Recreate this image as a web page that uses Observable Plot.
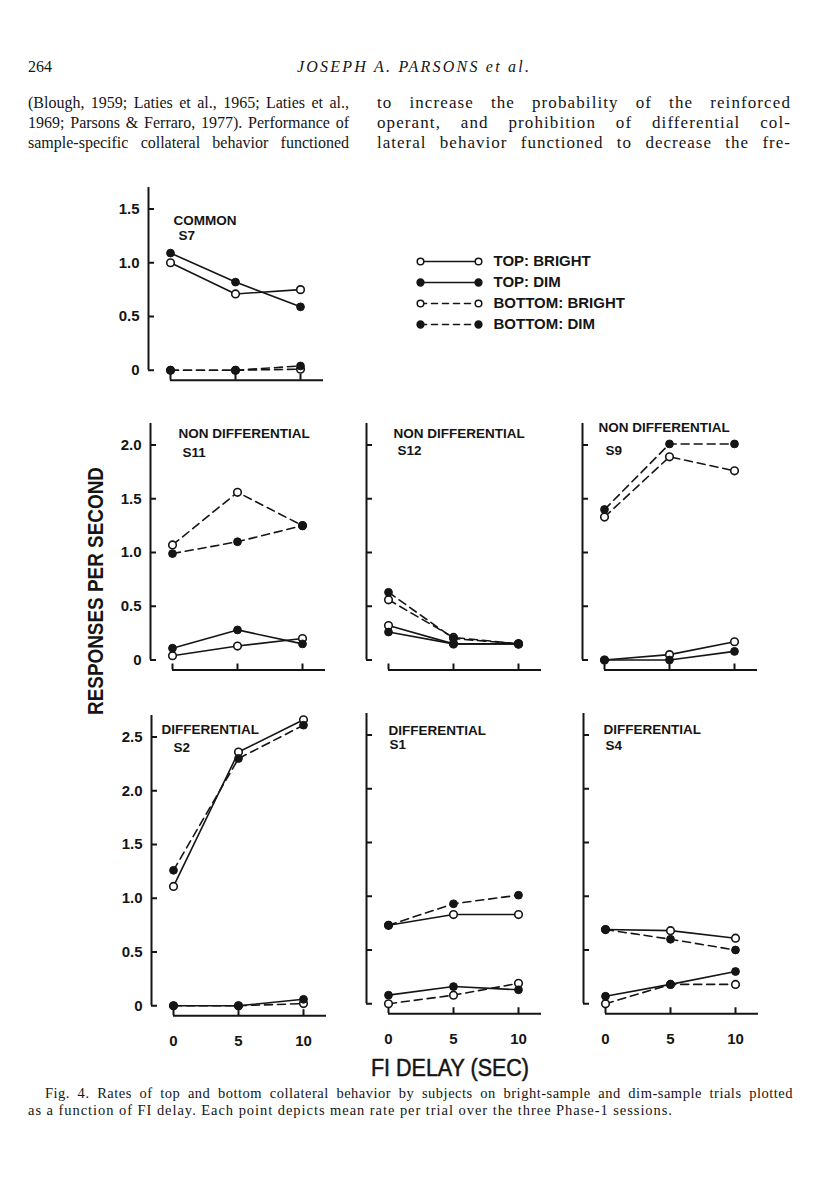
<!DOCTYPE html>
<html>
<head>
<meta charset="utf-8">
<script src="https://cdn.jsdelivr.net/npm/d3@7"></script>
<script src="https://cdn.jsdelivr.net/npm/@observablehq/plot@0.6"></script>
<style>
  html, body { margin: 0; padding: 0; background: #fff; }
  #page { position: relative; width: 816px; height: 1200px; overflow: hidden; background: #fff; color: #151515; }
  .line { position: absolute; white-space: nowrap; display: inline-block; transform-origin: 0 50%; }
  .serif { font-family: "Liberation Serif", "Times New Roman", serif; }
  .sans { font-family: "Liberation Sans", Arial, Helvetica, sans-serif; }
  .panel { position: absolute; }
  .panel svg { overflow: visible; }
</style>
</head>
<body>
<div id="page"></div>
<script>
// ---------------- DATA ----------------
const delays = [0, 5, 10];                       // FI delay (sec)
const xTickLabels = ["0", "5", "10"];
const subjects = ["S7", "S11", "S12", "S9", "S2", "S1", "S4"];
const conditions = ["COMMON", "NON DIFFERENTIAL", "NON DIFFERENTIAL", "NON DIFFERENTIAL",
                    "DIFFERENTIAL", "DIFFERENTIAL", "DIFFERENTIAL"];
const seriesNames = ["TOP: BRIGHT", "TOP: DIM", "BOTTOM: BRIGHT", "BOTTOM: DIM"];
// responses per second, one row per subject (same order as `subjects`), values at delays 0, 5, 10
const topBright    = [[1.00, 0.71, 0.75], [0.04, 0.13, 0.20], [0.32, 0.15, 0.15], [0.00, 0.05, 0.17],
                      [1.11, 2.36, 2.66], [0.73, 0.83, 0.83], [0.69, 0.68, 0.61]];
const topDim       = [[1.09, 0.82, 0.59], [0.11, 0.28, 0.15], [0.26, 0.15, 0.15], [0.00, 0.00, 0.08],
                      [0.00, 0.00, 0.06], [0.08, 0.16, 0.13], [0.07, 0.18, 0.30]];
const bottomBright = [[0.00, 0.00, 0.01], [1.07, 1.56, 1.25], [0.56, 0.21, 0.15], [1.33, 1.89, 1.76],
                      [0.00, 0.00, 0.02], [0.00, 0.08, 0.19], [0.00, 0.18, 0.18]];
const bottomDim    = [[0.00, 0.00, 0.04], [0.99, 1.10, 1.25], [0.63, 0.20, 0.15], [1.40, 2.01, 2.01],
                      [1.26, 2.30, 2.61], [0.73, 0.93, 1.01], [0.69, 0.60, 0.50]];
const yTickValues = [0, 0.5, 1.0, 1.5, 2.0, 2.5];
const yTickLabels = ["0", "0.5", "1.0", "1.5", "2.0", "2.5"];
const yTitle = "RESPONSES PER SECOND";
const xTitle = "FI DELAY (SEC)";

// page text
const pageNumber = "264";
const runningHead = "JOSEPH A. PARSONS et al.";
const leftColumn = ["(Blough, 1959; Laties et al., 1965; Laties et al.,",
                    "1969; Parsons & Ferraro, 1977). Performance of",
                    "sample-specific collateral behavior functioned"];
const rightColumn = ["to increase the probability of the reinforced",
                     "operant, and prohibition of differential col-",
                     "lateral behavior functioned to decrease the fre-"];
const captionLines = ["Fig. 4. Rates of top and bottom collateral behavior by subjects on bright-sample and dim-sample trials plotted",
                      "as a function of FI delay. Each point depicts mean rate per trial over the three Phase-1 sessions."];

// ---------------- LAYOUT (pixels on the page) ----------------
const PX_PER_SEC = 13.0, PX_PER_UNIT = 107.5;
const panelLayout = [
  {axisX: 148.0, zeroY: 370.0,  yTop: 1.7, nTicks: 4, yLabels: true,  xLabels: false, t1: [25, 28], t2: [30, 43]},
  {axisX: 150.0, zeroY: 659.3,  yTop: 2.2, nTicks: 5, yLabels: true,  xLabels: false, t1: [28, 5],  t2: [32, 24]},
  {axisX: 365.7, zeroY: 659.3,  yTop: 2.2, nTicks: 5, yLabels: false, xLabels: false, t1: [27, 5],  t2: [31, 22]},
  {axisX: 582.3, zeroY: 659.3,  yTop: 2.2, nTicks: 5, yLabels: false, xLabels: false, t1: [16, -1], t2: [23, 22]},
  {axisX: 150.7, zeroY: 1005.0, yTop: 2.7, nTicks: 6, yLabels: true,  xLabels: true,  t1: [10, 9],  t2: [22, 27]},
  {axisX: 365.7, zeroY: 1003.3, yTop: 2.7, nTicks: 6, yLabels: false, xLabels: true,  t1: [22, 12], t2: [23, 26]},
  {axisX: 583.3, zeroY: 1003.3, yTop: 2.7, nTicks: 6, yLabels: false, xLabels: true,  t1: [20, 11], t2: [22, 27]}
];
const INK = "#151515";
const SANS = '"Liberation Sans", Arial, Helvetica, sans-serif';

const page = document.getElementById("page");

function addLine(text, cls, x, yc, opts = {}) {
  const el = document.createElement("span");
  el.className = "line " + cls;
  el.textContent = text;
  el.style.fontSize = (opts.size || 15) + "px";
  el.style.lineHeight = (opts.lh || 20) + "px";
  if (opts.italic) el.style.fontStyle = "italic";
  if (opts.weight) el.style.fontWeight = opts.weight;
  if (opts.letter) el.style.letterSpacing = opts.letter + "px";
  if (opts.stroke) el.style.webkitTextStroke = opts.stroke + "px " + INK;
  page.appendChild(el);
  let w = el.getBoundingClientRect().width;
  const h = opts.lh || 20;
  let left = x;
  if (opts.target) {
    const spaces = (text.match(/ /g) || []).length;
    if (opts.mode === "mixed" && w < opts.target) {
      // spread part of the slack over letters, the rest over word gaps
      const ls = Math.min(opts.maxLetter || 0.8, (opts.target - w) * 0.5 / text.length);
      el.style.letterSpacing = ls + "px";
      w = el.getBoundingClientRect().width;
      if (w < opts.target && spaces) el.style.wordSpacing = ((opts.target - w) / spaces) + "px";
    } else if (opts.mode === "words" && w < opts.target && spaces) {
      el.style.wordSpacing = ((opts.target - w) / spaces) + "px";
    } else if (opts.mode === "letters" && w < opts.target) {
      el.style.letterSpacing = ((opts.letter || 0) + (opts.target - w) / (text.length - 1)) + "px";
    } else if (w !== opts.target) {
      el.style.transform = `scaleX(${opts.target / w})`;
    }
  }
  if (opts.center) left = x - (opts.target || w) / 2;
  el.style.left = left + "px";
  el.style.top = (yc - h / 2) + "px";
  return el;
}

// running head
addLine(pageNumber, "serif", 28, 67, {size: 16});
addLine(runningHead, "serif", 413, 67, {size: 16, italic: true, target: 232, mode: "letters", center: true});
// body text columns
leftColumn.forEach((t, i) => addLine(t, "serif", 28, 103 + 20 * i, {size: 16, target: 321, mode: "words"}));
rightColumn.forEach((t, i) => addLine(t, "serif", 377, 103 + 20 * i, {size: 17, target: 414, mode: "mixed", maxLetter: 1.1}));
// caption
addLine(captionLines[0], "serif", 45, 1093, {size: 14.5, lh: 17, target: 748, mode: "mixed"});
addLine(captionLines[1], "serif", 28, 1110, {size: 14.5, lh: 17, target: 644, mode: "letters"});
// axis titles
addLine(xTitle, "sans", 450, 1068, {size: 23, lh: 26, target: 158, center: true, stroke: 0.5});
{
  const el = addLine(yTitle, "sans", 0, 0, {size: 22, lh: 26, weight: "bold"});
  const w = el.getBoundingClientRect().width;
  el.style.transformOrigin = "50% 50%";
  el.style.left = (96 - w / 2) + "px";
  el.style.top = (591 - 13) + "px";
  el.style.transform = `rotate(-90deg) scaleX(${248 / w})`;
}

// ---------------- PANELS ----------------
const seriesValues = [topBright, topDim, bottomBright, bottomDim];

function drawPanel(i) {
  const L = panelLayout[i];
  const ml = 50, mr = 6, mt = 6, mb = 42;
  const xLo = -22 / PX_PER_SEC, xHi = 153 / PX_PER_SEC;
  const yLo = -10 / PX_PER_UNIT;
  const fw = (xHi - xLo) * PX_PER_SEC;
  const fh = (L.yTop - yLo) * PX_PER_UNIT;
  const ticks = yTickValues.slice(0, L.nTicks);
  const rows = [];
  seriesNames.forEach((s, k) => {
    seriesValues[k][i].forEach((v, j) => rows.push({series: s, delay: delays[j], value: v, top: k < 2, dim: k % 2 === 1}));
  });
  const marks = [
    // y axis line and inward ticks
    Plot.ruleX([xLo], {x: d => d, y1: ticks[0], y2: L.yTop, stroke: INK, strokeWidth: 2}),
    Plot.ruleY(ticks, {y: d => d, x1: xLo, x2: xLo + 6 / PX_PER_SEC, stroke: INK, strokeWidth: 2}),
    // x axis line (offset below zero) and upward ticks
    Plot.ruleY([yLo], {y: d => d, x1: delays[0], x2: xHi, stroke: INK, strokeWidth: 2}),
    Plot.ruleX(delays, {x: d => d, y1: yLo, y2: yLo + 6 / PX_PER_UNIT, stroke: INK, strokeWidth: 2}),
    // data lines
    Plot.line(rows.filter(r => r.top), {x: "delay", y: "value", z: "series", stroke: INK, strokeWidth: 1.6}),
    Plot.line(rows.filter(r => !r.top), {x: "delay", y: "value", z: "series", stroke: INK, strokeWidth: 1.6, strokeDasharray: "8,5"}),
    Plot.dot(rows.filter(r => !r.dim), {x: "delay", y: "value", r: 3.8, fill: "white", stroke: INK, strokeWidth: 1.6}),
    Plot.dot(rows.filter(r => r.dim), {x: "delay", y: "value", r: 3.9, fill: INK, stroke: INK, strokeWidth: 1}),
    // panel titles
    Plot.text([conditions[i]], {frameAnchor: "top-left", dx: L.t1[0], dy: L.t1[1], textAnchor: "start", lineAnchor: "top",
      fontSize: 13.5, fontWeight: "bold", fontFamily: SANS, fill: INK}),
    Plot.text([subjects[i]], {frameAnchor: "top-left", dx: L.t2[0], dy: L.t2[1], textAnchor: "start", lineAnchor: "top",
      fontSize: 13.5, fontWeight: "bold", fontFamily: SANS, fill: INK})
  ];
  if (L.yLabels) {
    marks.push(Plot.text(ticks, {y: d => d, frameAnchor: "left", dx: -9, textAnchor: "end", lineAnchor: "middle",
      text: (d, j) => yTickLabels[j], fontSize: 15, fontWeight: "bold", fontFamily: SANS, fill: INK}));
  }
  if (L.xLabels) {
    marks.push(Plot.text(delays, {x: d => d, frameAnchor: "bottom", dy: 25, textAnchor: "middle", lineAnchor: "middle",
      text: (d, j) => xTickLabels[j], fontSize: 15, fontWeight: "bold", fontFamily: SANS, fill: INK}));
  }
  const svg = Plot.plot({
    width: ml + fw + mr, height: mt + fh + mb,
    marginLeft: ml, marginRight: mr, marginTop: mt, marginBottom: mb,
    x: {domain: [xLo, xHi], axis: null},
    y: {domain: [yLo, L.yTop], axis: null},
    style: {background: "transparent", overflow: "visible"},
    marks
  });
  const div = document.createElement("div");
  div.className = "panel";
  div.style.left = (L.axisX - ml) + "px";
  div.style.top = (L.zeroY - L.yTop * PX_PER_UNIT - mt) + "px";
  div.appendChild(svg);
  page.appendChild(div);
}
subjects.forEach((s, i) => drawPanel(i));

// ---------------- LEGEND ----------------
{
  const rows = seriesNames.flatMap((s, k) => [0, 1].map(x => ({series: s, x, top: k < 2, dim: k % 2 === 1})));
  const svg = Plot.plot({
    width: 240, height: 100, marginLeft: 20, marginRight: 162, marginTop: 16, marginBottom: 21,
    x: {domain: [0, 1], axis: null},
    y: {type: "point", domain: seriesNames, padding: 0, axis: null},
    style: {background: "transparent", overflow: "visible"},
    marks: [
      Plot.line(rows.filter(r => r.top), {x: "x", y: "series", z: "series", stroke: INK, strokeWidth: 1.6}),
      Plot.line(rows.filter(r => !r.top), {x: "x", y: "series", z: "series", stroke: INK, strokeWidth: 1.6, strokeDasharray: "6,5"}),
      Plot.dot(rows.filter(r => !r.dim), {x: "x", y: "series", r: 3.3, fill: "white", stroke: INK, strokeWidth: 1.5}),
      Plot.dot(rows.filter(r => r.dim), {x: "x", y: "series", r: 3.4, fill: INK, stroke: INK}),
      Plot.text(seriesNames, {y: d => d, frameAnchor: "right", dx: 15, textAnchor: "start", lineAnchor: "middle",
        fontSize: 15, fontFamily: SANS, fill: INK, fontWeight: "bold"})
    ]
  });
  const div = document.createElement("div");
  div.className = "panel";
  div.style.left = "400px";
  div.style.top = "245px";
  div.appendChild(svg);
  page.appendChild(div);
}
</script>
</body>
</html>
